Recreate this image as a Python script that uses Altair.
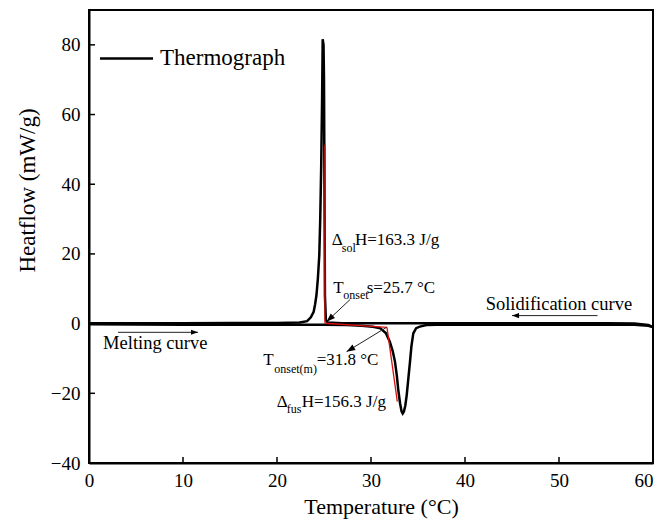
import altair as alt
import pandas as pd

# ---- data ----
melt_T = [0, 5, 10, 15, 20, 25, 27.4, 29, 30.2, 31.0, 31.6, 32.0, 32.3, 32.55, 32.75, 32.9,
          33.1, 33.25, 33.37, 33.5, 33.65, 33.8, 34.0, 34.15, 34.3, 34.5, 34.8, 35.2, 35.9,
          37, 40, 45, 50, 55, 58, 59.5, 60]
melt_H = [-0.2, -0.25, -0.3, -0.3, -0.3, -0.3, -0.4, -0.6, -0.9, -1.35, -2.8, -5.2, -7.8, -10.9,
          -15, -19, -23, -25.2, -25.8, -25.2, -23.5, -20.5, -15, -10.9, -6.5, -2.8, -1.3, -0.86,
          -0.4, -0.3, -0.3, -0.3, -0.3, -0.3, -0.35, -0.6, -1.0]
solid_T = [0, 5, 10, 15, 20, 22.4, 23.2, 23.6, 23.9, 24.05, 24.2, 24.35, 24.5, 24.6, 24.7, 24.8,
           24.86, 24.95, 25.0, 25.05, 25.1, 25.2, 25.4, 27, 30, 35, 40, 45, 50, 55, 58, 59.5, 60]
solid_H = [0.1, 0.1, 0.1, 0.15, 0.2, 0.3, 0.7, 1.8, 3.4, 5.5, 8.2, 13, 19.7, 30, 45, 65,
           81.6, 80, 70, 40, 8, 1.0, 0.3, 0.1, 0.1, 0.1, 0.1, 0.1, 0.1, 0.1, 0.0, -0.4, -1.0]

# onset tangent construction (red)
tan_seg = ["sol_tangent", "sol_tangent", "baseline", "baseline", "fus_tangent", "fus_tangent"]
tan_T = [25.1, 25.1, 25.1, 31.7, 31.7, 32.8]
tan_H = [51.3, 0.1, 0.1, -1.1, -1.1, -22.4]

# arrows: start -> end (head at end)
arr_x1 = [27.77, 31.66, 3.09, 54.1]
arr_y1 = [6.9, -1.06, -2.5, 2.3]
arr_x2 = [25.27, 27.4, 11.6, 45.0]
arr_y2 = [0.57, -8.05, -2.5, 2.3]
arr_angle = [227, 239, 90, 270]

x_ticks = [0, 10, 20, 30, 40, 50, 60]
y_ticks = [-40, -20, 0, 20, 40, 60, 80]

FONT = "Liberation Serif"
W, H = 564, 453
xs = alt.Scale(domain=[0, 60], nice=False, zero=False)
ys = alt.Scale(domain=[-40, 90], nice=False, zero=False)

x_axis = alt.Axis(values=x_ticks, title="Temperature (°C)", grid=False, ticks=False,
                  domainColor="black", domainWidth=2, labelFont=FONT, labelFontSize=19,
                  labelColor="black", labelPadding=8, titleFont=FONT, titleFontSize=22,
                  titleFontWeight="normal", titleColor="black", titlePadding=6, titleX=292,
                  labelFlush=False, format="d",
                  labelAlign={"condition": {"test": "datum.value == 60", "value": "right"},
                              "value": "center"})
y_axis = alt.Axis(values=y_ticks, title="Heatflow (mW/g)", grid=False, ticks=False,
                  domainColor="black", domainWidth=2, labelFont=FONT, labelFontSize=19,
                  labelColor="black", labelPadding=9, titleFont=FONT, titleFontSize=23,
                  titleFontWeight="normal", titleColor="black", titlePadding=11, titleY=180,
                  labelFlush=False)


def X(f):
    return alt.X(f, type="quantitative", scale=xs, axis=x_axis)


def Y(f):
    return alt.Y(f, type="quantitative", scale=ys, axis=y_axis)


curves = pd.DataFrame({
    "T": melt_T + solid_T,
    "H": melt_H + solid_H,
    "curve": ["melting"] * len(melt_T) + ["solidification"] * len(solid_T),
    "i": list(range(len(melt_T))) + list(range(len(solid_T))),
})

line = alt.Chart(curves).mark_line(color="black", strokeWidth=2.5).encode(
    x=X("T"), y=Y("H"), detail="curve:N", order="i:Q")

tan_df = pd.DataFrame({"seg": tan_seg, "T": tan_T, "H": tan_H})
tangents = alt.Chart(tan_df).mark_line(color="#d81010", strokeWidth=1.3).encode(
    x=X("T"), y=Y("H"), detail="seg:N")

arr_df = pd.DataFrame({"x1": arr_x1, "y1": arr_y1, "x2": arr_x2, "y2": arr_y2, "a": arr_angle,
                       "k": ["big", "big", "small", "small"]})
arrow_lines = alt.Chart(arr_df).mark_rule(color="#222222", strokeWidth=1).encode(
    x=X("x1"), y=Y("y1"), x2="x2", y2="y2")
head_path = "M0,0L-0.36,1L0.36,1Z"
arrow_heads = alt.Chart(arr_df).mark_point(shape=head_path, filled=True, color="black",
                                           opacity=1, strokeWidth=0).encode(
    x=X("x2"), y=Y("y2"), angle=alt.Angle("a:Q", scale=None),
    size=alt.Size("k:N", scale=alt.Scale(domain=["big", "small"], range=[300, 200]), legend=None))

tick_style = dict(color="black", strokeWidth=1.5)
yticks = alt.Chart(pd.DataFrame({"v": y_ticks})).mark_rule(**tick_style).encode(
    y=Y("v"), x=alt.value(0), x2=alt.value(6))
xticks = alt.Chart(pd.DataFrame({"v": x_ticks})).mark_rule(**tick_style).encode(
    x=X("v"), y=alt.value(H), y2=alt.value(H - 6))

# legend (drawn in data space)
leg_line = alt.Chart(pd.DataFrame({"x1": [1.17], "x2": [6.81], "y": [76.1]})).mark_rule(
    color="black", strokeWidth=2.5).encode(x=X("x1"), x2="x2", y=Y("y"))
leg_text = alt.Chart(pd.DataFrame({"x": [7.55], "y": [76.1], "t": ["Thermograph"]})).mark_text(
    font=FONT, fontSize=23, align="left", baseline="middle", color="black").encode(
    x=X("x"), y=Y("y"), text="t:N")

# curve labels
lab_df = pd.DataFrame({"x": [1.5, 42.2], "y": [-5.7, 5.5],
                       "t": ["Melting curve", "Solidification curve"]})
labels = alt.Chart(lab_df).mark_text(font=FONT, fontSize=18.5, align="left", baseline="middle",
                                      color="black").encode(x=X("x"), y=Y("y"), text="t:N")

# annotations with subscripts: (anchor x, anchor y, [(text, dx, dy, size)])
annotations = [
    (25.82, 23.9, [("Δ", 0, 0, 17), ("sol", 10, 8, 12), ("H=163.3 J/g", 23.3, 0, 17)]),
    (25.99, 10.14, [("T", 0, 0, 17), ("onset", 10, 7, 12), ("s=25.7 °C", 33.4, 0, 17)]),
    (18.54, -10.34, [("T", 0, 0, 17), ("onset(m)", 11, 9, 12), ("=31.8 °C", 53.4, 0, 17)]),
    (19.97, -22.4, [("Δ", 0, 0, 17), ("fus", 10, 7, 12), ("H=156.3 J/g", 25, 0, 17)]),
]
ann_layers = []
for ax, ay, pieces in annotations:
    for txt, dx, dy, sz in pieces:
        ann_layers.append(
            alt.Chart(pd.DataFrame({"x": [ax], "y": [ay], "t": [txt]})).mark_text(
                font=FONT, fontSize=sz, align="left", baseline="middle", color="black",
                dx=dx, dy=dy).encode(x=X("x"), y=Y("y"), text="t:N"))

chart = alt.layer(line, tangents, arrow_lines, arrow_heads, yticks, xticks, leg_line, leg_text,
                  labels, *ann_layers).properties(
    width=W, height=H,
    autosize=alt.AutoSizeParams(type="none"),
    padding={"left": 81, "top": 2, "right": 1, "bottom": 60},
    background="white",
).configure_view(stroke="black", strokeWidth=2)

chart.save("out.html", embed_options={"renderer": "svg", "actions": False})
